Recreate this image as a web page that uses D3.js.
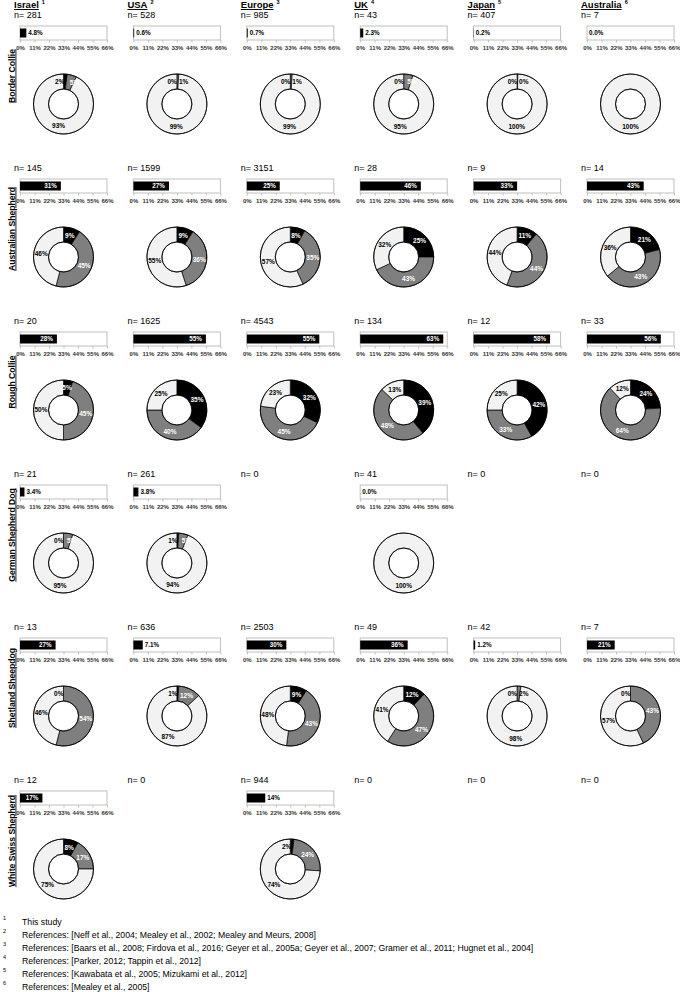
<!DOCTYPE html>
<html>
<head>
<meta charset="utf-8">
<title>MDR1 genotype and allele frequency by breed and region</title>
<style>
	body { margin: 0; background: #fff; }
	text { font-family: "Liberation Sans", Arial, sans-serif; }
	.lbl { font-family: "Liberation Sans", Arial, sans-serif; font-weight: bold; }
	.axis text { font-family: "Liberation Sans Narrow", "Liberation Sans", Arial, sans-serif; font-size: 6px; fill: #333; }
	.axis path, .axis line { stroke: #bfbfbf; }
</style>
</head>
<body>
<svg id="chart" width="680" height="992"></svg>
<script src="https://cdnjs.cloudflare.com/ajax/libs/d3/7.8.5/d3.min.js"></script>
<script>

	var columns = ["Israel", "USA", "Europe", "UK", "Japan", "Australia"];
	var columnRefs = ["1", "2", "3", "4", "5", "6"];
	var breeds = ["Border Collie", "Australian Shepherd", "Rough Collie", "German Shepherd Dog", "Shetland Sheepdog", "White Swiss Shepherd"];

	// n per breed (rows) and region (columns)
	var sampleSizes = [
		[281, 528, 985, 43, 407, 7],
		[145, 1599, 3151, 28, 9, 14],
		[20, 1625, 4543, 134, 12, 33],
		[21, 261, 0, 41, 0, 0],
		[13, 636, 2503, 49, 42, 7],
		[12, 0, 944, 0, 0, 0]
	];

	// mutant allele frequency (%) - the bars
	var alleleFreq = [
		[4.8, 0.6, 0.7, 2.3, 0.2, 0.0],
		[31, 27, 25, 46, 33, 43],
		[28, 55, 55, 63, 58, 56],
		[3.4, 3.8, null, 0.0, null, null],
		[27, 7.1, 30, 36, 1.2, 21],
		[17, null, 14, null, null, null]
	];

	// genotype shares (%) - the donuts
	var homMutant = [
		[2, 0, 0, 0, 0, null],
		[9, 9, 8, 25, 11, 21],
		[5, 35, 32, 39, 42, 24],
		[0, 1, null, null, null, null],
		[0, 1, 9, 12, 0, 0],
		[8, null, 2, null, null, null]
	];
	var hetero = [
		[5, 1, 1, 5, 0.4, null],
		[45, 36, 35, 43, 44, 43],
		[45, 40, 45, 48, 33, 64],
		[5, 5, null, null, null, null],
		[54, 12, 43, 47, 2, 43],
		[17, null, 24, null, null, null]
	];
	var normal = [
		[93, 99, 99, 95, 100, 100],
		[46, 55, 57, 32, 44, 36],
		[50, 25, 23, 13, 25, 12],
		[95, 94, null, 100, null, null],
		[46, 87, 48, 41, 98, 57],
		[75, null, 74, null, null, null]
	];

	var axisTicks = [0, 11, 22, 33, 44, 55, 66];

	var footnotes = [
		"This study",
		"References: [Neff et al., 2004; Mealey et al., 2002; Mealey and Meurs, 2008]",
		"References: [Baars et al., 2008; Firdova et al., 2016; Geyer et al., 2005a; Geyer et al., 2007;  Gramer et al., 2011; Hugnet et al., 2004]",
		"References: [Parker, 2012; Tappin et al., 2012]",
		"References: [Kawabata et al., 2005; Mizukami et al., 2012]",
		"References: [Mealey et al., 2005]"
	];

	var sliceColors = ["#000000", "#7f7f7f", "#f2f2f2"];

	var svg = d3.select("#chart");
	svg.append("rect").attr("width", 680).attr("height", 992).attr("fill", "#fff");

	var colX = d3.scaleLinear().domain([0, 5]).range([20, 587]);
	var rowY = d3.scaleLinear().domain([0, 5]).range([18, 783]);
	var barW = 87, boxH = 14;
	var outerR = 30, innerR = 15;

	var x = d3.scaleLinear().domain([0, 66]).range([0, barW]);

	var pie = d3.pie().sort(null).value(function(d) { return d.v || 0; });
	var arc = d3.arc().innerRadius(innerR).outerRadius(outerR);
	var labelArc = d3.arc().innerRadius((innerR + outerR) / 2).outerRadius((innerR + outerR) / 2);

	function fmtFreq(v) {
		return v < 10 ? v.toFixed(1) + "%" : Math.round(v) + "%";
	}

	// column titles
	columns.forEach(function(c, i) {
		var t = svg.append("text")
			.attr("x", colX(i) - 6)
			.attr("y", 8)
			.attr("font-size", 9.5)
			.attr("font-weight", "bold")
			.attr("text-decoration", "underline")
			.text(c);
		var w = t.node().getComputedTextLength();
		svg.append("text")
			.attr("x", colX(i) - 6 + w + 3)
			.attr("y", 4)
			.attr("font-size", 5.5)
			.attr("font-weight", "bold")
			.text(columnRefs[i]);
	});

	// row labels
	breeds.forEach(function(b, r) {
		var cy = rowY(r) + 58;
		svg.append("text")
			.attr("transform", "translate(14.5," + cy + ") rotate(-90)")
			.attr("text-anchor", "middle")
			.attr("font-size", 8.6)
			.attr("font-weight", "bold")
			.attr("text-decoration", "underline")
			.text(b);
	});

	function drawBar(g, v) {
		g.append("rect")
			.attr("x", 0).attr("y", 0)
			.attr("width", barW).attr("height", boxH)
			.attr("fill", "#fff")
			.attr("stroke", "#bfbfbf");

		var bw = x(v);
		g.append("rect")
			.attr("x", 0).attr("y", 2.5)
			.attr("width", bw).attr("height", boxH - 5)
			.attr("fill", "#000");

		var lab = g.append("text")
			.attr("class", "lbl")
			.attr("y", boxH / 2 + 2.3)
			.attr("font-size", 6.3)
			.text(fmtFreq(v));
		var tw = lab.node().getComputedTextLength();
		if (bw > tw + 6) {
			lab.attr("x", bw - 4).attr("text-anchor", "end").attr("fill", "#fff");
		} else {
			lab.attr("x", bw + 2).attr("fill", "#000");
		}

		var ax = g.append("g")
			.attr("class", "axis")
			.attr("transform", "translate(0," + boxH + ")")
			.call(d3.axisBottom(x).tickValues(axisTicks).tickSize(2.5).tickPadding(3)
				.tickFormat(function(d) { return d + "%"; }));
		ax.select(".domain").remove();
		ax.selectAll("text").attr("font-weight", "bold");
	}

	function drawDonut(g, r, c) {
		var slices = [
			{ v: homMutant[r][c], k: 0 },
			{ v: hetero[r][c], k: 1 },
			{ v: normal[r][c], k: 2 }
		];
		var arcs = pie(slices);

		g.selectAll("path")
			.data(arcs)
			.enter().append("path")
			.attr("d", arc)
			.attr("fill", function(d) { return sliceColors[d.data.k]; })
			.attr("stroke", "#000")
			.attr("stroke-width", 0.7);

		g.append("circle").attr("r", outerR).attr("fill", "none").attr("stroke", "#000").attr("stroke-width", 0.8);
		g.append("circle").attr("r", innerR).attr("fill", "none").attr("stroke", "#000").attr("stroke-width", 0.8);

		var small = slices[0].v !== null && slices[0].v < 4;
		arcs.forEach(function(d) {
			if (d.data.v === null) return;
			var p = labelArc.centroid(d);
			var anchor = "middle";
			var fill = d.data.k === 2 ? "#000" : "#fff";
			if (d.data.k === 0 && d.data.v < 4) {
				anchor = "end"; fill = "#000"; p[0] = Math.min(p[0], 1);
			} else if (d.data.k === 1 && small && d.data.v < 8) {
				anchor = "start"; p[0] = Math.max(p[0], 2);
				if (d.data.v < 3) fill = "#000";
			}
			g.append("text")
				.attr("class", "lbl")
				.attr("x", p[0])
				.attr("y", p[1] + 2.3)
				.attr("text-anchor", anchor)
				.attr("font-size", 6.5)
				.attr("fill", fill)
				.text(Math.round(d.data.v) + "%");
		});
	}

	// panels
	breeds.forEach(function(b, r) {
		columns.forEach(function(c, i) {
			var px = colX(i), py = rowY(r);
			svg.append("text")
				.attr("x", px - 6)
				.attr("y", py)
				.attr("font-size", 9)
				.text("n=  " + sampleSizes[r][i]);

			if (alleleFreq[r][i] === null) return;

			var gb = svg.append("g").attr("transform", "translate(" + px + "," + (py + 8) + ")");
			drawBar(gb, alleleFreq[r][i]);

			var gd = svg.append("g").attr("transform", "translate(" + (px + barW / 2) + "," + (py + 86) + ")");
			drawDonut(gd, r, i);
		});
	});

	// footnotes
	footnotes.forEach(function(f, i) {
		var y = 925 + i * 13;
		svg.append("text").attr("x", 3).attr("y", y - 5).attr("font-size", 5.5).text(i + 1);
		svg.append("text").attr("x", 22).attr("y", y).attr("font-size", 8.7).text(f);
	});

</script>
</body>
</html>
